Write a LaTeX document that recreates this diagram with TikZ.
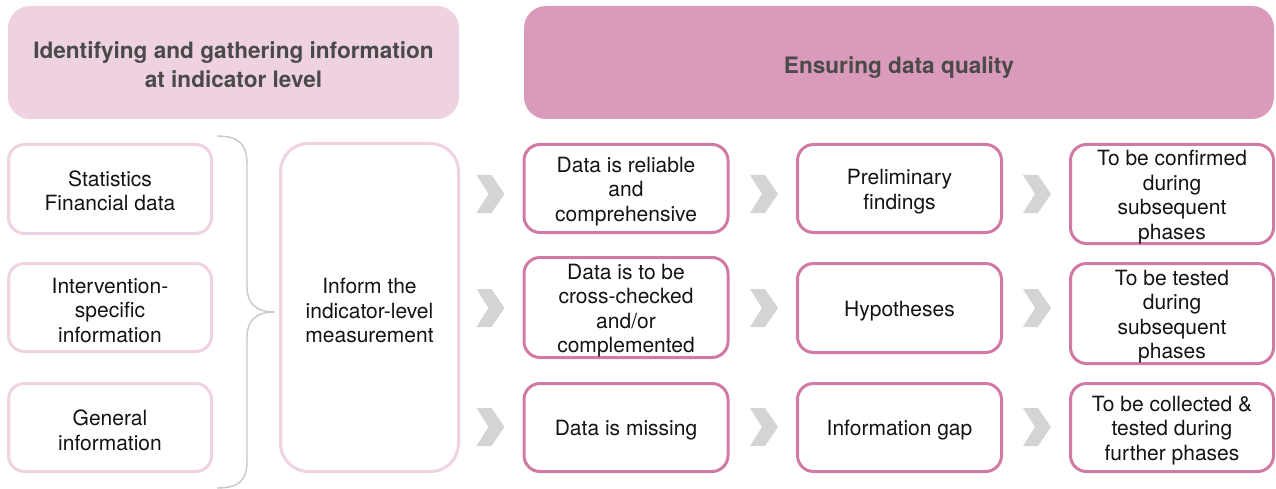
\documentclass[tikz,border=0pt]{standalone}
\usepackage{fontspec}
\setmainfont{TeX Gyre Heros}
\definecolor{hdrlight}{HTML}{EFD2E1}
\definecolor{hdrdark}{HTML}{DA9AB9}
\definecolor{bdrlight}{HTML}{EFD3E2}
\definecolor{bdrdark}{HTML}{D07AA5}
\definecolor{chevgray}{HTML}{D4D4D4}
\definecolor{bracegray}{HTML}{C8C8C8}
\definecolor{titletext}{HTML}{4A4A4A}
\definecolor{bodytext}{HTML}{141414}
\tikzset{
  hdr/.style={rectangle, rounded corners=22pt, inner sep=0pt},
  ttl/.style={inner sep=0pt, align=center, text=titletext,
    font=\fontsize{22.6}{29}\selectfont\bfseries},
  lightbox/.style={rectangle, rounded corners=16pt, draw=bdrlight, line width=3pt,
    fill=white, inner sep=0pt},
  darkbox/.style={lightbox, draw=bdrdark},
  txt/.style={inner sep=0pt, align=center, text=bodytext,
    font=\fontsize{21}{24.5}\selectfont},
  chev/.pic={\fill[chevgray] (-14,-19) -- (1,-19) -- (14,0) -- (1,19) -- (-14,19) -- (-2,0) -- cycle;}
}
\begin{document}
\begin{tikzpicture}[x=1pt,y=-1pt]
\useasboundingbox (0,0) rectangle (1276,489);
% headers
\node[hdr, fill=hdrlight, minimum width=451pt, minimum height=113pt] (h1) at (233.5,62.5) {};
\node[ttl] (h1t) at ([yshift=-2pt]h1.center) {Identifying and gathering information\\at indicator level};
\node[hdr, fill=hdrdark, minimum width=750pt, minimum height=113pt] (h2) at (899,62.5) {};
\node[ttl] (h2t) at ([yshift=-5pt]h2.center) {Ensuring data quality};
% left column
\node[lightbox, minimum width=203pt, minimum height=89pt] (l1) at (110,189) {};
\node[txt] (l1t) at ([yshift=-2pt]l1.center) {Statistics\\Financial data};
\node[lightbox, minimum width=203pt, minimum height=88pt] (l2) at (110,307.5) {};
\node[txt] (l2t) at ([yshift=-3pt]l2.center) {Intervention-\\specific\\information};
\node[lightbox, minimum width=203pt, minimum height=88pt] (l3) at (110,427.5) {};
\node[txt] (l3t) at ([yshift=-3pt]l3.center) {General\\information};
% middle box
\node[lightbox, rounded corners=28pt, minimum width=178pt, minimum height=328pt] (m) at (369.5,307.5) {};
\node[txt] (mt) at ([yshift=-3pt]m.center) {Inform the\\indicator-level\\measurement};
% brace
\draw[bracegray, line width=1.4pt]
  (217,136) .. controls (240,136) and (247,145) .. (247,165) -- (247,286)
  .. controls (247,304) and (256,312) .. (275,312)
  .. controls (256,312) and (247,320) .. (247,338) -- (247,460)
  .. controls (247,480) and (240,488) .. (217,488);
% column a
\node[darkbox, minimum width=204pt, minimum height=88pt] (a1) at (626,188.5) {};
\node[txt] (a1t) at ([yshift=-3pt]a1.center) {Data is reliable\\and\\comprehensive};
\node[darkbox, minimum width=204pt, minimum height=100pt] (a2) at (626,307.5) {};
\node[txt] (a2t) at ([yshift=-3pt]a2.center) {Data is to be\\cross-checked\\and/or\\complemented};
\node[darkbox, minimum width=204pt, minimum height=88pt] (a3) at (626,427.5) {};
\node[txt] (a3t) at ([yshift=-3pt]a3.center) {Data is missing};
% column b
\node[darkbox, minimum width=204pt, minimum height=88pt] (b1) at (899.5,188.5) {};
\node[txt] (b1t) at ([yshift=-3pt]b1.center) {Preliminary\\findings};
\node[darkbox, minimum width=204pt, minimum height=89pt] (b2) at (899.5,308) {};
\node[txt] (b2t) at ([yshift=-3pt]b2.center) {Hypotheses};
\node[darkbox, minimum width=204pt, minimum height=88pt] (b3) at (899.5,427.5) {};
\node[txt] (b3t) at ([yshift=-3pt]b3.center) {Information gap};
% column c
\node[darkbox, minimum width=203pt, minimum height=99pt] (c1) at (1172,194) {};
\node[txt] (c1t) at ([yshift=-3pt]c1.center) {To be confirmed\\during\\subsequent\\phases};
\node[darkbox, minimum width=203pt, minimum height=100pt] (c2) at (1172,313.5) {};
\node[txt] (c2t) at ([yshift=-3pt]c2.center) {To be tested\\during\\subsequent\\phases};
\node[darkbox, minimum width=203pt, minimum height=88pt] (c3) at (1172,427.5) {};
\node[txt] (c3t) at ([yshift=-3pt]c3.center) {To be collected \&\\tested during\\further phases};
% chevrons
\pic at (490.5,194) {chev};
\pic at (490.5,308) {chev};
\pic at (490.5,427) {chev};
\pic at (764,194) {chev};
\pic at (764,308) {chev};
\pic at (764,427) {chev};
\pic at (1037,194) {chev};
\pic at (1037,308) {chev};
\pic at (1037,427) {chev};
\end{tikzpicture}
\end{document}
